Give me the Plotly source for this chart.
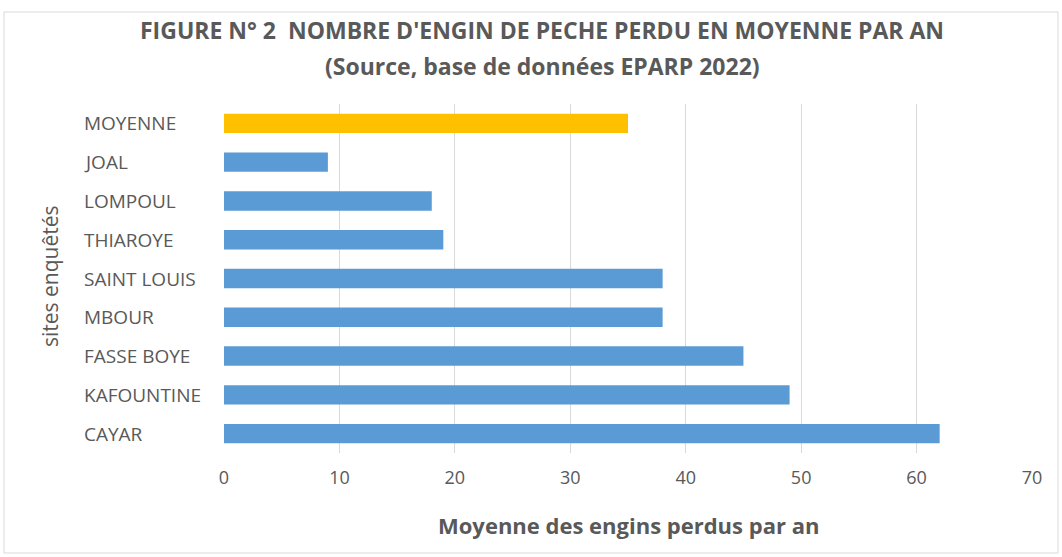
import plotly.graph_objects as go

sites = ["CAYAR", "KAFOUNTINE", "FASSE BOYE", "MBOUR", "SAINT LOUIS",
         "THIAROYE", "LOMPOUL", "JOAL", "MOYENNE"]
values = [62, 49, 45, 38, 38, 19, 18, 9, 35]
colors = ["#5B9BD5"] * 8 + ["#FFC000"]
x_ticks = [0, 10, 20, 30, 40, 50, 60, 70]

title_line1 = "FIGURE N° 2  NOMBRE D'ENGIN DE PECHE PERDU EN MOYENNE PAR AN"
title_line2 = "(Source, base de données EPARP 2022)"
x_title = "Moyenne des engins perdus par an"
y_title = "sites enquêtés"

FONT = "Open Sans"
GRAY = "#595959"

fig = go.Figure()
fig.add_trace(go.Bar(
    x=values, y=sites, orientation="h",
    marker=dict(color=colors, line=dict(width=0)),
    width=0.5,
))

W, H = 1062, 557
L, R, T, B = 224, 30, 104, 104
pw = W - L - R
ph = H - T - B

annotations = []
for s in sites:
    annotations.append(dict(
        text=s, x=(82 - L) / pw, xref="paper", xanchor="left",
        y=s, yref="y", yanchor="middle", showarrow=False,
        font=dict(family=FONT, size=19, color=GRAY),
    ))
annotations.append(dict(
    text=y_title, x=(50 - L) / pw, xref="paper", xanchor="center",
    y=1 - (276 - T) / ph, yref="paper", yanchor="middle", textangle=-90, showarrow=False,
    font=dict(family=FONT, size=21, color=GRAY),
))
annotations.append(dict(
    text="<b>" + title_line1 + "</b>", x=(542 - L) / pw, xref="paper", xanchor="center",
    y=1 + (T - 30) / ph, yref="paper", yanchor="middle", showarrow=False,
    font=dict(family=FONT, size=23, color=GRAY),
))
annotations.append(dict(
    text="<b>" + title_line2 + "</b>", x=(542 - L) / pw, xref="paper", xanchor="center",
    y=1 + (T - 66) / ph, yref="paper", yanchor="middle", showarrow=False,
    font=dict(family=FONT, size=23, color=GRAY),
))
annotations.append(dict(
    text="<b>" + x_title + "</b>", x=(628 - L) / pw, xref="paper", xanchor="center",
    y=-(525 - (H - B)) / ph, yref="paper", yanchor="middle", showarrow=False,
    font=dict(family=FONT, size=22, color=GRAY),
))

fig.update_layout(
    width=W, height=H,
    margin=dict(l=L, r=R, t=T, b=B),
    paper_bgcolor="white", plot_bgcolor="white",
    showlegend=False,
    bargap=0.5,
    annotations=annotations,
    shapes=[dict(type="rect", xref="paper", yref="paper",
                 x0=(4 - L) / pw, x1=(1058 - L) / pw,
                 y0=-(553 - (H - B)) / ph, y1=1 + (T - 12) / ph,
                 line=dict(color="#d9d9d9", width=1), layer="below")],
    xaxis=dict(range=[0, 70], tickvals=x_ticks, showgrid=True, gridcolor="#d9d9d9",
               gridwidth=1, zeroline=False, showline=False,
               tickfont=dict(family=FONT, size=18, color=GRAY), ticks="",
               ticklabelstandoff=12),
    yaxis=dict(showticklabels=False, showgrid=False, zeroline=False, showline=False,
               categoryorder="array", categoryarray=sites),
)

fig.write_html("out.html", config={"displayModeBar": False},
               post_script="document.body.style.margin='0';document.body.style.overflow='hidden';")
